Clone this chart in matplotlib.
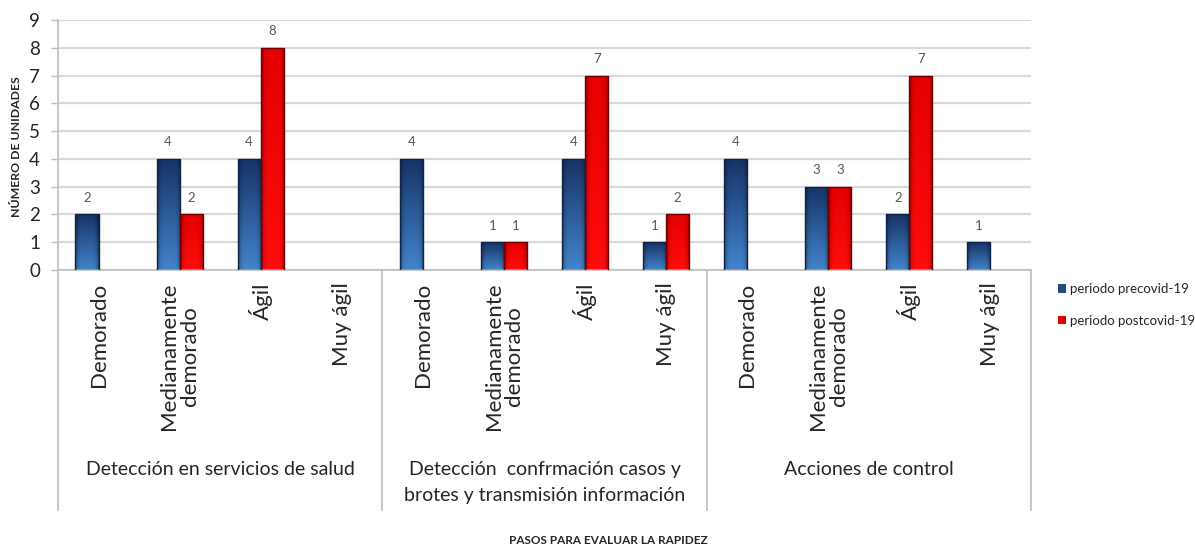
import numpy as np
import matplotlib
matplotlib.use("Agg")
import matplotlib.pyplot as plt
from matplotlib.patches import Patch
from matplotlib.transforms import blended_transform_factory

plt.rcParams['font.family'] = ['Lato', 'DejaVu Sans']

groups = ["Detección en servicios de salud",
          "Detección  confrmación casos y\nbrotes y transmisión información",
          "Acciones de control"]
levels = ["Demorado", "Medianamente\ndemorado", "Ágil", "Muy ágil"]

# 0 = no bar / no label
precovid = [2, 4, 4, 0, 4, 1, 4, 1, 4, 3, 2, 1]
postcovid = [0, 2, 8, 0, 0, 1, 7, 2, 0, 3, 7, 0]

series_names = ["periodo precovid-19", "periodo postcovid-19"]

BLUE_TOP = np.array([0.09, 0.20, 0.40])
BLUE_BOT = np.array([0.26, 0.52, 0.80])
BLUE_EDGE = "#0f2548"
RED_TOP = np.array([0.90, 0.0, 0.0])
RED_BOT = np.array([1.0, 0.05, 0.05])
RED_EDGE = "#6e0000"


def shade_bars(ax, bars, top, bottom):
    # fill each bar with a vertical gradient and darkened sides
    ny, nx = 80, 40
    t = np.linspace(0, 1, ny)[:, None, None]
    u = np.linspace(-1, 1, nx)[None, :, None]
    base = top * (1 - t) + bottom * t
    side = 1 - 0.45 * np.abs(u) ** 5
    img = np.clip(base * side, 0, 1)
    for b in bars:
        h = b.get_height()
        if h <= 0:
            b.set_visible(False)
            continue
        x0 = b.get_x()
        w = b.get_width()
        im = ax.imshow(img, extent=[x0, x0 + w, 0, h], origin='upper',
                       aspect='auto', interpolation='bilinear', zorder=2)
        im.set_clip_path(b)


fig = plt.figure(figsize=(11.95, 5.5), dpi=100)
ax = fig.add_axes([58 / 1195, 1 - 270 / 550, (1031 - 58) / 1195, 250 / 550])

x = np.arange(len(precovid))
w = 0.285
b1 = ax.bar(x - w / 2, precovid, w, facecolor='none', edgecolor=BLUE_EDGE, lw=1.0, zorder=3)
b2 = ax.bar(x + w / 2, postcovid, w, facecolor='none', edgecolor=RED_EDGE, lw=1.0, zorder=3)
shade_bars(ax, b1, BLUE_TOP, BLUE_BOT)
shade_bars(ax, b2, RED_TOP, RED_BOT)

for bars, vals in ((b1, precovid), (b2, postcovid)):
    for b, v in zip(bars, vals):
        if v > 0:
            ax.text(b.get_x() + b.get_width() / 2, v + 0.38, str(v),
                    ha='center', va='bottom', fontsize=9.5, color='#595959')

ax.set_xlim(-0.5, len(precovid) - 0.5)
ax.set_ylim(0, 9)
ax.set_yticks(range(10))
ax.yaxis.grid(True, color='#d9d9d9', lw=1.6, zorder=0)
ax.set_axisbelow(True)
ax.tick_params(axis='y', labelsize=13.5, length=5, width=1, color='#bfbfbf',
               pad=8, labelcolor='#262626')

ax.set_xticks(x)
ax.set_xticklabels(levels * len(groups), rotation=90, fontsize=16, color='#262626',
                   linespacing=1.05)
for lbl in ax.get_xticklabels():
    lbl.set_multialignment('center')
ax.tick_params(axis='x', length=0, pad=9)

for s in ('top', 'right'):
    ax.spines[s].set_visible(False)
for s in ('left', 'bottom'):
    ax.spines[s].set_color('#bfbfbf')
    ax.spines[s].set_linewidth(1.2)

# separators between groups below the axis
trans = blended_transform_factory(ax.transData, ax.transAxes)
for k in range(len(groups) + 1):
    xb = -0.5 + 4 * k
    ax.plot([xb, xb], [0, -0.96], transform=trans, color='#bfbfbf',
            lw=1.2, clip_on=False)

for k, g in enumerate(groups):
    ax.text(1.5 + 4 * k, -0.765, g, transform=trans, ha='center', va='top',
            fontsize=14, color='#262626', linespacing=1.6)

fig.text(17 / 1195, 1 - 147 / 550, "NÚMERO DE UNIDADES", rotation=90,
         ha='center', va='center', fontsize=8.8, fontweight='bold', color='#262626')
fig.text(608 / 1195, 1 - 541 / 550, "PASOS PARA EVALUAR LA RAPIDEZ",
         ha='center', va='center', fontsize=8.5, fontweight='bold', color='#262626')

handles = [Patch(facecolor='#1f4a82', edgecolor='none'),
           Patch(facecolor='#e00000', edgecolor='none')]
fig.legend(handles, series_names, loc='center left',
           bbox_to_anchor=(1046 / 1195, 1 - 305 / 550), frameon=False,
           fontsize=9.5, handlelength=0.6, handleheight=0.6, handletextpad=0.3,
           labelspacing=1.5, labelcolor='#262626')

fig.savefig("out.png", dpi=100, facecolor='white')
